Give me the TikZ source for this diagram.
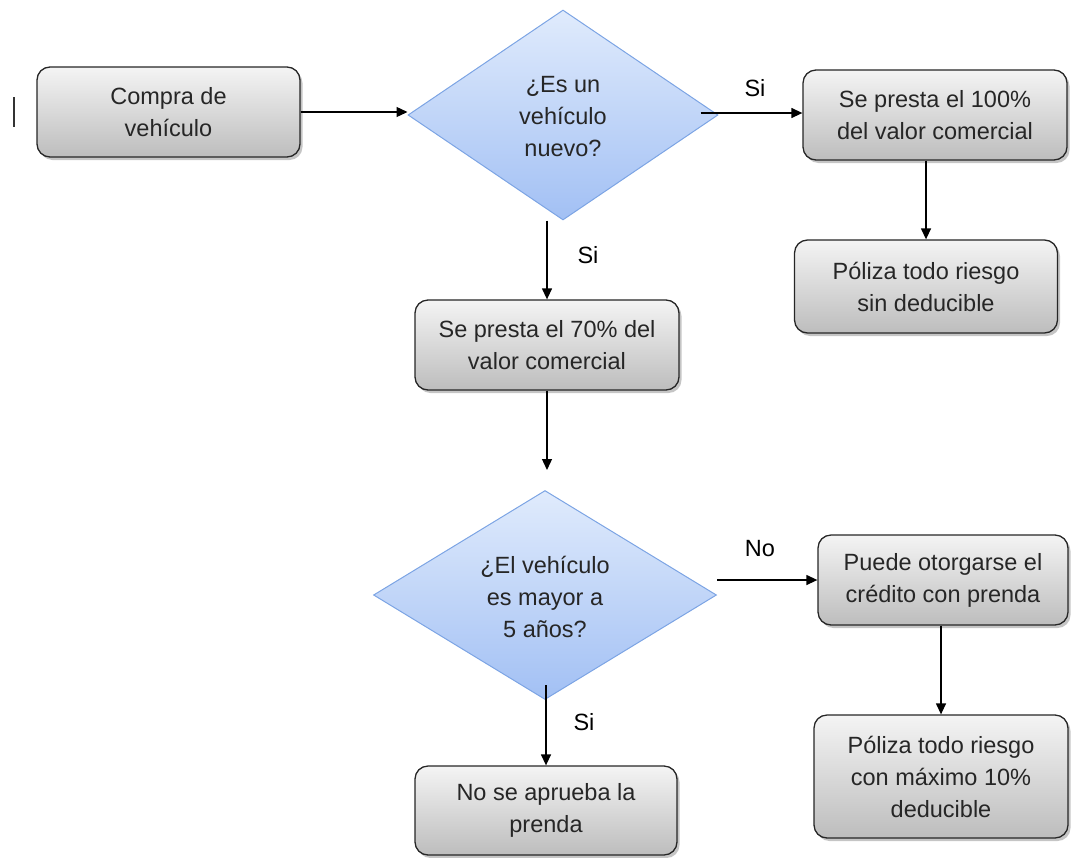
\documentclass[tikz,border=0pt]{standalone}
\usepackage{fontspec}
\setmainfont{Liberation Sans}
\usetikzlibrary{shapes.geometric,arrows.meta,shadows,calc}
\definecolor{boxtop}{HTML}{F4F4F4}
\definecolor{boxbot}{HTML}{BDBDBD}
\definecolor{diatop}{HTML}{E0EBFC}
\definecolor{diabot}{HTML}{A2C0F4}
\definecolor{diaedge}{HTML}{7CA4E4}
\definecolor{txt}{HTML}{262626}
\tikzset{
  base/.style={font=\fontsize{23.5}{32}\selectfont, text=txt, align=center, inner sep=0pt},
  procbox/.style={base, draw=black!85, line width=1.3pt, rounded corners=13pt,
    top color=boxtop, bottom color=boxbot,
    drop shadow={shadow xshift=2.5pt, shadow yshift=-3pt, fill=black!45, opacity=0.5}},
  decision/.style={base, shape=diamond, draw=diaedge, line width=1pt,
    top color=diatop, bottom color=diabot},
  arr/.style={line width=1.3pt, draw=black, -{Triangle[length=11pt,width=10pt]}},
  lbl/.style={base, text=black}
}
\begin{document}
\begin{tikzpicture}[x=1pt,y=-1pt]
\useasboundingbox (0,0) rectangle (1073,857);
% cursor mark
\draw[line width=1.6pt, black!80] (14,97) -- (14,127);

\node[procbox, minimum width=263pt, minimum height=90pt] (b1) at (168.5,112) {Compra de\\vehículo};
\node[decision, minimum width=310pt, minimum height=210pt] (d1) at (563,115) {};
\node[base] (t1) at (563,117) {¿Es un\\vehículo\\nuevo?};
\node[procbox, minimum width=264pt, minimum height=90pt] (b2) at (935,115) {Se presta el 100\%\\del valor comercial};
\node[procbox, minimum width=263pt, minimum height=93pt] (b3) at (926,286.5) {Póliza todo riesgo\\sin deducible};
\node[procbox, minimum width=264pt, minimum height=90pt] (b4) at (547,345) {Se presta el 70\% del\\valor comercial};
\node[decision, minimum width=343pt, minimum height=209pt] (d2) at (545,595) {};
\node[base] (t2) at (545,597) {¿El vehículo\\es mayor a\\5 años?};
\node[procbox, minimum width=250pt, minimum height=90pt] (b5) at (943,580) {Puede otorgarse el\\crédito con prenda};
\node[procbox, minimum width=254pt, minimum height=123pt] (b6) at (941,776.5) {Póliza todo riesgo\\con máximo 10\%\\deducible};
\node[procbox, minimum width=262pt, minimum height=89pt] (b7) at (546,810.5) {No se aprueba la\\prenda};

\coordinate (c1) at (547,470);

\draw[arr] (b1.east) -- (b1.east -| d1.west);
\draw[arr] ($(d1.east)+(-18,-2)$) coordinate (s1) -- (s1 -| b2.west);
\draw[arr] (b3.north |- b2.south) -- (b3.north);
\draw[arr] (b4.north |- d1.south) -- (b4.north);
\draw[arr] (b4.south) -- (c1);
\draw[arr] (d2.east |- b5.west) -- (b5.west);
\draw[arr] (b6.north |- b5.south) -- (b6.north);
\draw[arr] ($(b7.north |- d2.south)+(0,-15)$) -- (b7.north);

\node[lbl] (l1) at (755,88) {Si};
\node[lbl] (l2) at (588,255) {Si};
\node[lbl] (l3) at (760,549) {No};
\node[lbl] (l4) at (584,722) {Si};
\end{tikzpicture}
\end{document}
